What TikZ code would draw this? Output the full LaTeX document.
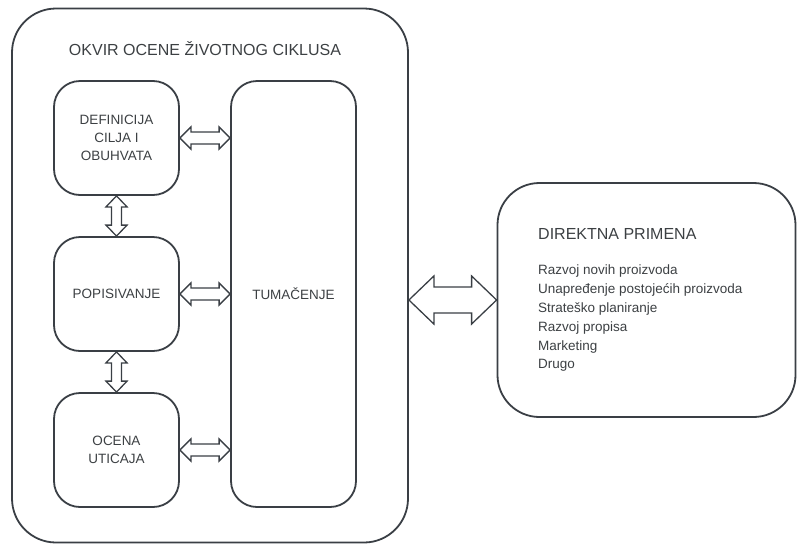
\documentclass[tikz,border=0pt]{standalone}
\usepackage{fontspec}
\setmainfont{Liberation Sans}
\usetikzlibrary{calc}
\definecolor{ln}{HTML}{3A3F45}
\definecolor{tx}{HTML}{3C4043}
\tikzset{
  box/.style={draw=ln, line width=1.8pt, rounded corners=#1, inner sep=0pt, text=tx, align=center, font=\fontsize{13.5}{18}\selectfont},
  box/.default=26pt,
  arr/.style={draw=ln, line width=1.3pt, line join=miter, fill=white},
  lbl/.style={text=tx, inner sep=0pt}
}
% horizontal double arrow between two points on one line: #1 start, #2 end, #3 half shaft, #4 half head, #5 head length
\newcommand{\hdbl}[5]{%
  \draw[arr] let \p1=(#1), \p2=(#2) in
    (\x1,\y1) -- (\x1+#5,\y1+#4) -- (\x1+#5,\y1+#3) -- (\x2-#5,\y1+#3) -- (\x2-#5,\y1+#4) -- (\x2,\y1)
    -- (\x2-#5,\y1-#4) -- (\x2-#5,\y1-#3) -- (\x1+#5,\y1-#3) -- (\x1+#5,\y1-#4) -- cycle;}
% vertical double arrow: #1 upper point, #2 lower point
\newcommand{\vdbl}[5]{%
  \draw[arr] let \p1=(#1), \p2=(#2) in
    (\x1,\y1) -- (\x1+#4,\y1-#5) -- (\x1+#3,\y1-#5) -- (\x1+#3,\y2+#5) -- (\x1+#4,\y2+#5) -- (\x1,\y2)
    -- (\x1-#4,\y2+#5) -- (\x1-#3,\y2+#5) -- (\x1-#3,\y1-#5) -- (\x1-#4,\y1-#5) -- cycle;}
\begin{document}
\begin{tikzpicture}[x=1pt,y=-1pt]
\useasboundingbox (0,0) rectangle (797,544);
% outer frame
\node[box=44pt, minimum width=396pt, minimum height=534pt] (outer) at (210,275.5) {};
\node[lbl, font=\fontsize{16}{19}\selectfont] (title) at (205,49) {OKVIR OCENE ŽIVOTNOG CIKLUSA};
% inner boxes
\node[box, minimum width=125pt, minimum height=114pt] (def) at (116.5,138) {DEFINICIJA\\CILJA I\\OBUHVATA};
\node[box, minimum width=125pt, minimum height=114pt] (pop) at (116.5,294) {POPISIVANJE};
\node[box, minimum width=125pt, minimum height=114pt] (oce) at (116.5,450) {OCENA\\UTICAJA};
\node[box, minimum width=125pt, minimum height=426pt] (tum) at (293.5,294) {TUMAČENJE};
% right box
\node[box=42pt, minimum width=298pt, minimum height=234pt] (dir) at (646.5,300) {};
\node[lbl, anchor=west, font=\fontsize{16}{19}\selectfont] (dirt) at (538,234) {DIREKTNA PRIMENA};
\node[lbl, anchor=north west, align=left, font=\fontsize{13.5}{18.8}\selectfont] (dirl) at (538,265)
  {Razvoj novih proizvoda\\Unapređenje postojećih proizvoda\\Strateško planiranje\\Razvoj propisa\\Marketing\\Drugo};
% arrows
\hdbl{def.east}{tum.west |- def.east}{6pt}{11pt}{11pt}
\hdbl{pop.east}{tum.west |- pop.east}{6pt}{11pt}{11pt}
\hdbl{oce.east}{tum.west |- oce.east}{6pt}{11pt}{11pt}
\vdbl{def.south}{pop.north}{5pt}{10.5pt}{11pt}
\vdbl{pop.south}{oce.north}{5pt}{10.5pt}{11pt}
\coordinate (bigl) at (outer.east |- dir.west);
\hdbl{bigl}{dir.west}{13pt}{24pt}{25pt}
\end{tikzpicture}
\end{document}
